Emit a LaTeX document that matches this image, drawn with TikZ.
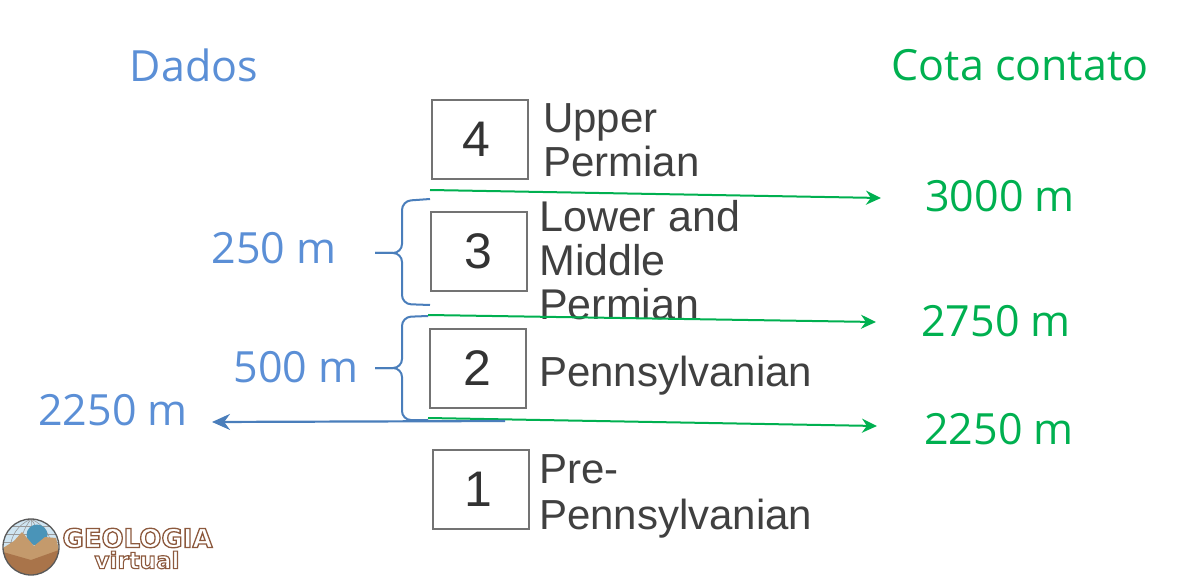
\documentclass[tikz,border=0pt]{standalone}
\usepackage{fontspec}
\usepackage{xcolor}
\setmainfont{Open Sans}
\newfontfamily\chartfont{Liberation Sans}
\newfontfamily\logofat[FakeBold=5]{DejaVu Sans Bold}
\newcommand{\logoink}[1]{\special{pdf:bcolor [1 1 1] [0.55 0.35 0.24]}#1\special{pdf:ecolor}}
\usetikzlibrary{positioning, arrows.meta, calc}
\definecolor{datablue}{HTML}{5B8FD6}
\definecolor{linkblue}{HTML}{4A7EBB}
\definecolor{cotagreen}{HTML}{00B050}
\definecolor{logosky}{HTML}{CFE5F2}
\definecolor{logoglobe}{HTML}{4A94B8}
\definecolor{logotan}{HTML}{C49A6C}
\definecolor{logosoil}{HTML}{A9744A}
\tikzset{
  unitbox/.style={draw=black!55, line width=2pt, minimum width=96pt, minimum height=79pt, inner sep=0pt, font=\chartfont\fontsize{50}{50}\selectfont, text=black!80},
  unitlbl/.style={anchor=west, align=left, inner sep=0pt, text=black!75, font=\chartfont\fontsize{42}{44}\selectfont},
  head/.style={font=\fontsize{43}{46}\selectfont},
  bluetxt/.style={head, text=datablue},
  greentxt/.style={head, text=cotagreen},
  garr/.style={-{Stealth[length=15pt,width=14pt]}, cotagreen, line width=2pt},
  barr/.style={-{Stealth[length=18pt,width=16pt]}, linkblue, line width=2.2pt},
  brace/.style={linkblue, line width=2pt, rounded corners=9pt},
  logotxt/.style={inner sep=0pt}
}
\begin{document}
\begin{tikzpicture}[x=1pt, y=-1pt]
\useasboundingbox (0,0) rectangle (1178,577);
% titles
\node[bluetxt] (dados) at (194,65) {Dados};
\node[greentxt] (cota) at (1020,65) {Cota contato};
% units
\node[unitbox] (u4) at (480,139.5) {\kern-7pt 4};
\node[unitbox] (u3) at (478.5,251.5) {\raisebox{-6pt}{3}};
\node[unitbox] (u2) at (477.5,368.5) {2};
\node[unitbox] (u1) at (481,489.5) {\kern-5pt 1};
\node[unitlbl] (l4) at (543,140) {Upper\\Permian};
\node[unitlbl, font=\chartfont\fontsize{43}{44}\selectfont] (l3) at (539,260) {Lower and\\Middle\\Permian};
\node[unitlbl] (l2) at (539,376) {Pennsylvanian};
\node[unitlbl, font=\chartfont\fontsize{42}{46}\selectfont] (l1) at (539,496) {Pre-\\Pennsylvanian};
% contacts
\coordinate (c43) at (430,190);
\coordinate (c32) at (428,315);
\coordinate (c21) at (428,418);
\node[greentxt] (t3000) at (1000,196) {3000 m};
\node[greentxt] (t2750) at (996,321) {2750 m};
\node[greentxt] (t2250) at (999,429) {2250 m};
\coordinate (e43) at (881,198);
\coordinate (e32) at (876,322);
\coordinate (e21) at (877,426);
\draw[garr] (c43) -- (e43);
\draw[garr] (c32) -- (e32);
\draw[garr] (c21) -- (e21);
% thicknesses
\node[bluetxt] (t250) at (274,248) {250 m};
\node[bluetxt] (t500) at (296,367) {500 m};
\node[bluetxt] (t2250b) at (113,410) {2250 m};
\coordinate (b1a) at (430,199);
\coordinate (b1b) at (430,305);
\coordinate (b2a) at (428,316);
\coordinate (b2b) at (428,420);
\coordinate (b1m) at (375,253);
\coordinate (b2m) at (375,368);
\draw[brace] (b1a) -- (402,201) -- (402,253) -- (b1m);
\draw[brace] (b1b) -- (402,304) -- (402,253) -- (b1m);
\draw[brace] (b2a) -- (402,317) -- (402,368) -- (b2m);
\draw[brace] (b2b) -- (402,420) -- (402,368) -- (b2m);
\coordinate (bs) at (505,421);
\coordinate (be) at (212,422);
\draw[barr] (bs) -- (be);
% logo
\begin{scope}
\clip (31,547) circle (28);
\fill[logosky] (3,519) rectangle (59,575);
\foreach \gx in {10,20,31,42,52}
  \draw[black!40, line width=.6pt] (31,519) to[bend left={(\gx-31)*1.5}] (\gx,550);
\foreach \gy in {526,534,542}
  \draw[black!40, line width=.6pt] (3,\gy) -- (59,\gy);
\fill[logoglobe] (37,535) circle (10.5);
\fill[logotan] (3,548) -- (14,541) -- (22,532) -- (34,546) -- (45,537) -- (56,538) -- (59,550) -- (59,575) -- (3,575) -- cycle;
\fill[logosoil] (3,552) -- (31,560) -- (59,550) -- (59,575) -- (3,575) -- cycle;
\end{scope}
\draw[black!65, line width=1.3pt] (31,547) circle (28);
\node[logotxt, font=\logofat\fontsize{26}{26}\selectfont] (geo) at (137.5,538) {\logoink{GEOLOGIA}};
\node[logotxt, font=\logofat\fontsize{23}{23}\selectfont] (virt) at (137,560) {\logoink{virtual}};
\end{tikzpicture}
\end{document}
